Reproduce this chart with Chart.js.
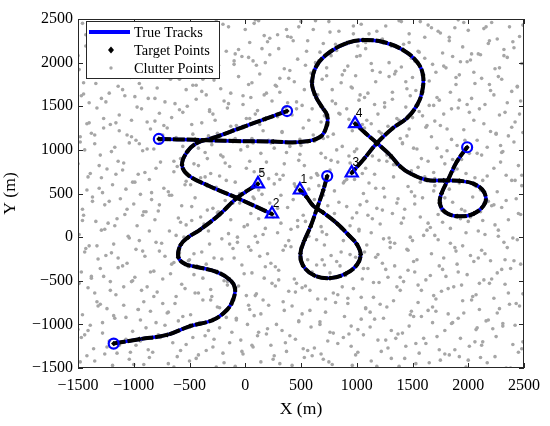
<!DOCTYPE html>
<html>
<head>
<meta charset="utf-8">
<script src="https://cdn.jsdelivr.net/npm/chart.js@4.4.1/dist/chart.umd.min.js"></script>
<style>
  html, body { margin: 0; padding: 0; background: #fff; }
</style>
</head>
<body>
<canvas id="chart" width="550" height="426"></canvas>
<script>
// Axis ticks
const xTicks = [-1500, -1000, -500, 0, 500, 1000, 1500, 2000, 2500];
const yTicks = [-1500, -1000, -500, 0, 500, 1000, 1500, 2000, 2500];

// True tracks (start = first point, end = last point), numbered by end label
const track1X = [735, 700, 645, 585, 530, 495, 520, 620, 760, 900, 1000, 1035, 1000, 930, 820, 700, 610, 550, 490];
const track1Y = [700, 540, 335, 120, -40, -190, -330, -440, -470, -420, -320, -200, -80, 20, 160, 280, 360, 460, 540];
const track2X = [375, 180, -20, -289, -433, -522, -567, -513, -343, -74, 240];
const track2Y = [1445, 1355, 1262, 1136, 1079, 976, 827, 712, 597, 449, 265];
const track3X = [-775, -450, -110, 250, 491, 671, 733, 733, 688, 626, 599, 644, 760, 913, 1056, 1236, 1415, 1541, 1594, 1586, 1541, 1451, 1325, 1182, 1070, 955];
const track3Y = [1125, 1115, 1102, 1095, 1090, 1148, 1285, 1400, 1491, 1629, 1778, 1973, 2122, 2225, 2259, 2236, 2145, 2007, 1858, 1663, 1514, 1365, 1251, 1079, 905, 735];
const track4X = [1990, 1900, 1820, 1760, 1745, 1790, 1900, 2050, 2150, 2140, 2050, 1920, 1780, 1630, 1480, 1390, 1300, 1180, 1075, 985];
const track4Y = [1030, 870, 660, 500, 390, 290, 240, 270, 390, 520, 610, 645, 650, 655, 730, 810, 940, 1080, 1195, 1300];
const track5X = [-1180, -950, -700, -495, -290, -165, -110, -92, -137, -253, -433, -540, -600, -580, -510, -400, -230, -74, 114];
const track5Y = [-1220, -1170, -1120, -1020, -950, -835, -720, -583, -491, -400, -342, -308, -230, -90, 0, 90, 260, 449, 610];
const trackLabels = ['1', '2', '3', '4', '5'];

// Clutter points
const clutterX = [
  -1420,-1190,-1040,-830,-690,-440,-260,-20,140,370,530,780,990,1130,1380,1560,1750,1920,2170,2340,
  -1480,-1260,-1030,-910,-610,-500,-200,-90,260,310,680,700,960,1220,1310,1650,1830,1980,2110,2450,
  -1360,-1220,-980,-760,-580,-360,-140,70,190,450,620,830,1060,1190,1440,1600,1880,2060,2250,2400,
  -1440,-1130,-1070,-870,-650,-470,-290,-40,230,400,560,740,930,1280,1350,1530,1720,2010,2130,2480,
  -1390,-1280,-940,-800,-520,-330,-170,20,120,480,590,890,1010,1160,1470,1680,1790,1910,2220,2310,
  -1500,-1170,-1010,-720,-560,-410,-230,-80,280,330,670,760,950,1240,1410,1510,1850,2080,2160,2420,
  -1330,-1240,-1090,-850,-630,-490,-120,40,160,420,510,810,1080,1120,1330,1640,1710,1960,2280,2370,
  -1460,-1300,-960,-910,-700,-380,-250,80,210,350,650,720,920,1270,1490,1550,1820,2030,2100,2460,
  -1410,-1160,-1020,-790,-540,-420,-300,-60,100,460,580,870,1040,1200,1360,1690,1760,1940,2230,2330,
  -1350,-1210,-930,-880,-620,-310,-160,10,240,390,540,790,970,1150,1420,1580,1870,2070,2190,2490,
  -1470,-1270,-1100,-740,-510,-460,-270,-30,170,300,630,710,1050,1260,1390,1520,1740,1990,2140,2380,
  -1380,-1140,-990,-820,-670,-350,-190,60,270,440,600,850,900,1100,1460,1620,1800,1900,2260,2300,
  -1430,-1250,-1060,-770,-590,-500,-110,-100,130,340,690,770,1070,1230,1300,1670,1780,2050,2120,2410,
  -1320,-1200,-920,-900,-640,-390,-280,30,200,490,500,820,940,1170,1450,1540,1890,2020,2200,2350,
  -1490,-1180,-1050,-860,-550,-430,-210,-70,290,360,570,880,1020,1290,1340,1630,1700,1950,2270,2440,
  -1400,-1290,-950,-750,-680,-320,-150,90,110,410,640,730,1090,1130,1480,1500,1840,2090,2150,2320,
  -1340,-1150,-1080,-810,-530,-480,-240,-10,250,320,520,860,960,1210,1320,1570,1770,1930,2240,2470,
  -1450,-1230,-970,-890,-600,-370,-130,50,180,470,680,750,1000,1140,1400,1660,1730,2000,2110,2360,
  -1370,-1120,-1000,-780,-660,-450,-290,-50,150,380,550,840,910,1250,1430,1590,1860,1970,2210,2430,
  -1460,-1260,-940,-840,-570,-340,-180,70,220,430,610,700,1030,1180,1370,1520,1760,2040,2180,2300,
  -1410,-1190,-1070,-730,-530,-400,-260,0,260,310,660,800,980,1110,1460,1610,1830,1920,2260,2390,
  -1310,-1280,-1010,-860,-690,-490,-170,-90,120,450,590,880,1060,1240,1330,1690,1700,2070,2130,2480,
  -1500,-1140,-960,-800,-610,-310,-230,40,190,340,530,760,940,1200,1490,1550,1790,1980,2230,2340,
  -1390,-1240,-1090,-900,-640,-460,-140,80,280,480,640,830,1080,1160,1350,1640,1870,1940,2170,2450,
  -1440,-1170,-920,-760,-580,-360,-300,-40,140,400,560,720,1000,1270,1410,1580,1720,2010,2290,2310,
  -1350,-1300,-1040,-820,-510,-420,-200,20,230,370,680,870,930,1150,1300,1510,1810,1900,2120,2410,
  -1480,-1210,-980,-740,-700,-330,-110,60,160,490,520,790,1050,1220,1470,1670,1750,2080,2200,2360,
  -1380,-1130,-1060,-850,-620,-480,-250,-80,210,330,620,740,960,1280,1390,1620,1850,1960,2250,2490,
  -1420,-1270,-930,-880,-560,-390,-160,10,110,420,600,850,1090,1130,1440,1500,1780,2050,2100,2330,
  -1330,-1160,-1020,-770,-660,-320,-270,90,290,360,570,710,910,1190,1360,1560,1700,1910,2280,2420,
  -1470,-1220,-990,-810,-530,-440,-190,-20,170,460,650,810,1020,1100,1480,1690,1840,2030,2150,2390,
  -1400,-1290,-1100,-720,-630,-350,-130,50,240,310,510,780,1070,1250,1320,1530,1740,1990,2230,2470,
  -1360,-1140,-950,-870,-590,-470,-280,-60,130,440,690,860,990,1210,1450,1650,1890,1920,2190,2300,
  -1450,-1190,-1030,-790,-680,-380,-220,30,270,390,590,730,950,1170,1340,1590,1710,2060,2270,2440,
  -1310,-1250,-960,-830,-540,-330,-100,-30,180,350,540,890,1030,1290,1400,1520,1800,1930,2110,2350,
  -1490,-1170,-1080,-760,-650,-430,-240,70,220,470,630,770,920,1140,1490,1680,1860,2020,2240,2480,
  -1390,-1280,-1000,-910,-570,-400,-300,-90,150,410,560,820,1080,1230,1310,1610,1770,1950,2180,2320,
  -1430,-1130,-940,-740,-610,-490,-170,40,200,300,670,700,1010,1110,1420,1550,1830,2090,2260,2400,
  -1340,-1230,-1050,-860,-520,-360,-260,0,290,480,500,840,970,1260,1380,1640,1730,1910,2140,2460,
  -1460,-1200,-970,-800,-690,-440,-150,80,120,380,610,750,1040,1180,1470,1570,1880,2000,2210,2370,
  -1350,-1150,-1000,-860,-640,-420,-190,-30,250,420,600,750,1010,1180,1430,1530,1790,2000,2240,2380,
  -1470,-1240,-940,-780,-530,-350,-280,60,110,360,520,880,950,1260,1370,1620,1740,1930,2120,2490,
  -1410,-1280,-1070,-890,-600,-490,-120,-80,200,480,670,790,1040,1120,1310,1580,1860,2070,2180,2310,
  -1320,-1180,-960,-740,-690,-310,-230,30,140,340,580,720,1080,1210,1480,1680,1710,1950,2260,2430,
  -1490,-1210,-1090,-820,-570,-450,-160,90,270,450,510,830,920,1150,1390,1550,1820,2040,2100,2360,
  -1380,-1300,-1010,-850,-660,-380,-300,-10,180,300,640,760,1060,1280,1340,1660,1770,1910,2210,2470,
  -1440,-1140,-980,-720,-510,-460,-210,50,230,410,560,860,990,1190,1460,1510,1880,2090,2150,2330,
  -1330,-1260,-1040,-800,-620,-330,-140,-70,160,390,690,710,1020,1240,1300,1600,1730,1980,2270,2400,
  -1460,-1170,-920,-910,-580,-400,-250,20,120,470,540,800,940,1100,1420,1640,1840,2020,2130,2450,
  -1370,-1220,-1060,-770,-680,-480,-110,80,290,320,620,740,1090,1230,1360,1520,1790,1940,2230,2340,
  -1420,-1290,-990,-840,-540,-360,-270,-50,210,440,570,890,910,1170,1490,1570,1700,2060,2110,2420,
  -1310,-1160,-1100,-760,-640,-420,-180,10,150,350,650,770,1050,1270,1330,1690,1860,1900,2290,2480,
  -1480,-1200,-950,-880,-560,-340,-220,70,260,490,500,820,980,1140,1410,1540,1760,2080,2170,2300,
  -1350,-1270,-1020,-730,-700,-470,-130,-90,130,330,610,700,1070,1200,1450,1630,1810,1970,2250,2390,
  -1400,-1130,-970,-810,-590,-320,-290,40,240,460,680,840,930,1250,1380,1590,1850,2010,2140,2460,
  -1450,-1250,-1080,-870,-520,-390,-150,-20,190,380,530,780,1030,1160,1320,1650,1720,1920,2200,2350,
  -1340,-1190,-930,-790,-670,-440,-240,60,280,310,590,870,960,1290,1440,1500,1890,2050,2120,2440,
  -1500,-1230,-1050,-900,-610,-500,-100,30,100,400,660,730,1000,1130,1350,1610,1780,1990,2280,2320,
  -1360,-1150,-1000,-750,-550,-370,-260,-60,220,430,550,810,1080,1220,1470,1560,1830,2030,2190,2410,
  -1430,-1280,-960,-830,-650,-410,-200,90,170,370,630,760,970,1110,1400,1670,1750,1960,2160,2490
];
const clutterY = [
  -1360,-1470,-1400,-1320,-1450,-1390,-1490,-1340,-1430,-1310,-1380,-1460,-1350,-1420,-1480,-1330,-1410,-1370,-1440,-1500,
  -1430,-1340,-1320,-1460,-1370,-1420,-1330,-1480,-1360,-1450,-1340,-1400,-1470,-1310,-1390,-1440,-1350,-1490,-1380,-1320,
  -1280,-1190,-1240,-1150,-1300,-1130,-1210,-1260,-1110,-1170,-1270,-1220,-1120,-1180,-1250,-1160,-1290,-1200,-1140,-1230,
  -1120,-1240,-1170,-1290,-1210,-1150,-1260,-1180,-1240,-1130,-1300,-1190,-1110,-1270,-1160,-1220,-1140,-1250,-1200,-1280,
  -1010,-1100,-950,-980,-1040,-1070,-920,-1000,-1090,-960,-1030,-910,-1060,-940,-1020,-980,-1070,-930,-1050,-990,
  -1060,-930,-1080,-1010,-910,-980,-1040,-950,-1000,-1070,-970,-1090,-1020,-930,-1100,-910,-990,-1040,-960,-1010,
  -740,-820,-780,-850,-760,-890,-770,-830,-720,-790,-880,-750,-810,-860,-730,-840,-710,-870,-820,-770,
  -890,-770,-830,-740,-870,-720,-800,-900,-780,-840,-710,-860,-760,-800,-850,-750,-880,-720,-830,-790,
  -580,-660,-510,-630,-590,-640,-680,-560,-650,-530,-610,-570,-690,-520,-570,-670,-620,-550,-700,-540,
  -640,-510,-610,-570,-680,-600,-550,-670,-530,-620,-560,-640,-590,-690,-510,-610,-570,-660,-530,-650,
  -400,-450,-330,-480,-340,-430,-390,-320,-470,-380,-440,-320,-480,-370,-460,-400,-330,-430,-490,-360,
  -470,-350,-460,-390,-420,-310,-500,-410,-340,-480,-400,-330,-440,-360,-380,-490,-450,-310,-410,-370,
  -130,-210,-300,-160,-180,-260,-130,-240,-220,-150,-260,-210,-170,-300,-120,-190,-240,-280,-150,-270,
  -250,-180,-160,-220,-290,-170,-240,-110,-190,-260,-120,-280,-200,-230,-140,-260,-160,-210,-270,-120,
  30,-80,10,70,0,60,-20,-60,50,-100,10,-40,70,-10,-70,80,20,-100,10,-30,
  -100,80,-40,-70,70,-80,40,10,-60,90,-30,30,-90,50,0,-40,-70,70,30,-60,
  180,210,260,200,140,190,290,120,230,160,250,100,220,150,270,230,170,210,140,260,
  250,160,130,290,220,150,200,270,100,190,120,240,280,210,160,110,260,180,290,200,
  410,440,380,300,480,450,330,390,490,340,470,400,350,460,320,450,400,300,360,440,
  320,370,490,430,360,310,420,460,390,430,350,480,370,330,440,380,310,460,410,340,
  690,600,550,560,640,680,570,510,610,660,590,530,660,620,580,690,550,620,520,650,
  560,510,630,660,520,600,650,630,540,580,680,620,500,560,690,530,670,580,650,590,
  840,870,720,790,810,730,700,870,860,710,820,770,850,880,760,800,840,730,790,710,
  730,780,850,740,870,840,810,750,720,880,730,860,790,720,830,870,760,890,700,820,
  1000,1030,990,1080,900,970,1060,1000,960,1040,1090,910,1010,940,1070,900,1020,960,1050,980,
  1070,940,1080,1010,990,1020,920,1040,1080,970,960,1040,930,1030,910,1020,990,1050,940,1090,
  1150,1290,1110,1170,1250,1160,1230,1130,1220,1120,1250,1180,1290,1190,1240,1150,1280,1110,1210,1160,
  1190,1220,1170,1240,1140,1290,1190,1280,1110,1210,1100,1150,1220,1270,1130,1260,1120,1230,1180,1200,
  1300,1360,1470,1320,1430,1310,1480,1360,1450,1400,1470,1410,1340,1300,1490,1370,1410,1340,1470,1430,
  1480,1310,1340,1420,1370,1460,1340,1410,1380,1490,1340,1390,1470,1410,1360,1440,1330,1480,1400,1320,
  1620,1650,1610,1590,1690,1580,1560,1520,1630,1550,1630,1530,1570,1650,1620,1510,1660,1590,1520,1670,
  1540,1590,1690,1550,1530,1630,1650,1600,1560,1660,1510,1690,1600,1540,1580,1680,1570,1520,1630,1560,
  1860,1730,1760,1870,1810,1740,1800,1840,1870,1780,1810,1770,1850,1890,1700,1790,1830,1860,1750,1810,
  1770,1880,1830,1710,1860,1810,1700,1750,1740,1820,1880,1850,1720,1780,1870,1740,1890,1760,1840,1730,
  2030,1950,1930,2040,1980,2090,2020,2070,2000,1930,1970,1910,2080,2000,1950,2020,1940,2010,2090,2060,
  1920,2010,2060,1960,1900,2050,1970,2020,2090,2040,2000,2080,1960,1910,2050,1980,2070,2030,1930,1990,
  2280,2170,2190,2200,2240,2120,2260,2100,2160,2290,2250,2140,2230,2270,2190,2290,2110,2180,2220,2150,
  2190,2260,2100,2280,2150,2270,2130,2230,2240,2160,2120,2220,2190,2250,2210,2130,2250,2100,2270,2240,
  2310,2340,2440,2330,2420,2400,2490,2380,2320,2410,2470,2360,2330,2420,2480,2430,2360,2490,2390,2300,
  2450,2420,2370,2430,2320,2360,2410,2450,2480,2300,2380,2470,2440,2360,2330,2470,2400,2370,2460,2410,
  -1420,-1330,-1460,-1380,-1490,-1350,-1440,-1310,-1400,-1470,-1360,-1430,-1320,-1480,-1390,-1450,-1340,-1410,-1370,-1500,
  -1150,-1260,-1190,-1120,-1230,-1300,-1170,-1240,-1130,-1210,-1280,-1150,-1250,-1180,-1110,-1220,-1290,-1160,-1240,-1200,
  -1070,-980,-920,-1040,-960,-1010,-1090,-930,-1050,-970,-1000,-1100,-940,-1030,-1070,-910,-980,-1060,-950,-1020,
  -790,-900,-830,-760,-860,-720,-810,-780,-880,-740,-840,-710,-820,-770,-890,-800,-850,-730,-870,-760,
  -530,-610,-570,-680,-540,-640,-510,-670,-560,-630,-580,-660,-700,-520,-610,-550,-590,-680,-530,-640,
  -450,-360,-500,-400,-310,-470,-380,-420,-340,-490,-320,-410,-360,-460,-330,-440,-370,-400,-480,-310,
  -170,-240,-140,-220,-270,-190,-250,-150,-300,-110,-260,-170,-230,-200,-150,-280,-120,-240,-190,-260,
  -100,90,-10,-60,20,70,-80,0,30,-40,60,-90,90,-20,-60,20,-30,50,80,-10,
  190,130,250,290,170,230,280,140,210,120,180,270,130,250,220,160,100,230,190,270,
  460,410,320,370,480,350,390,440,330,480,430,360,410,310,390,470,450,320,370,420,
  540,680,630,510,600,690,560,500,670,610,550,640,660,560,520,630,590,680,540,650,
  820,720,770,860,750,820,850,790,760,840,710,880,730,870,830,740,890,780,860,710,
  1090,980,1070,1010,1040,900,940,1080,1020,950,1050,1000,980,930,1080,1010,920,960,1030,970,
  1170,1250,1150,1280,1120,1180,1270,1130,1290,1200,1170,1130,1250,1210,1160,1280,1240,1110,1190,1260,
  1310,1400,1490,1330,1460,1440,1410,1360,1380,1470,1320,1420,1350,1490,1340,1390,1470,1430,1300,1410,
  1640,1550,1620,1590,1500,1670,1530,1620,1650,1540,1690,1560,1630,1520,1660,1510,1600,1570,1680,1540,
  1760,1860,1710,1850,1810,1740,1890,1770,1730,1820,1790,1860,1710,1840,1780,1830,1750,1890,1820,1720,
  2080,1920,2040,1950,2030,2000,1980,2060,1970,1910,2020,1940,2070,1990,1900,2050,1960,2010,1940,2080,
  2200,2230,2180,2270,2140,2290,2110,2150,2280,2250,2130,2210,2160,2260,2230,2120,2290,2100,2250,2170,
  2320,2370,2460,2300,2390,2360,2440,2490,2310,2380,2480,2350,2420,2330,2470,2400,2340,2460,2410,2430
];

const legendLabels = ['True Tracks', 'Target Points', 'Clutter Points'];

// Styles
const SERIF = '"Liberation Serif", "Times New Roman", serif';
const SANS = '"Liberation Sans", Arial, sans-serif';
const BLUE = '#0000ff';
const GRAY = '#a6a6a6';
const AXIS = '#262626';

const tracksX = [track1X, track2X, track3X, track4X, track5X];
const tracksY = [track1Y, track2Y, track3Y, track4Y, track5Y];

function toPoints(xs, ys) {
  return xs.map((x, i) => ({ x: x, y: ys[i] }));
}
function fmt(v) {
  return v < 0 ? '\u2212' + Math.abs(v) : String(v);
}

const datasets = [];

// start circles and end triangles on top
datasets.push({
  label: 'Start',
  data: tracksX.map((xs, i) => ({ x: xs[0], y: tracksY[i][0] })),
  pointStyle: 'circle', radius: 5, borderWidth: 2.2,
  borderColor: BLUE, backgroundColor: 'rgba(0,0,0,0)', order: 0
});
datasets.push({
  label: 'End',
  data: tracksX.map((xs, i) => ({ x: xs[xs.length - 1], y: tracksY[i][tracksY[i].length - 1] })),
  pointStyle: 'triangle', radius: 7, borderWidth: 2.2,
  borderColor: BLUE, backgroundColor: 'rgba(0,0,0,0)', order: 0
});

tracksX.forEach((xs, i) => {
  datasets.push({
    label: legendLabels[1],
    data: toPoints(xs, tracksY[i]),
    showLine: true, tension: 0.4,
    borderColor: '#000', borderWidth: 4, borderDash: [12, 2],
    pointStyle: 'rectRot', radius: 2.6,
    pointBorderWidth: 0, backgroundColor: '#000', order: 2
  });
  datasets.push({
    label: legendLabels[0],
    data: toPoints(xs, tracksY[i]),
    showLine: true, tension: 0.4,
    borderColor: BLUE, borderWidth: 3.5, radius: 0, order: 3
  });
});

datasets.push({
  label: legendLabels[2],
  data: toPoints(clutterX, clutterY),
  pointStyle: 'circle', radius: 1.8, borderWidth: 0,
  backgroundColor: GRAY, order: 5
});

// frame, inward ticks, end labels, legend
const decorations = {
  id: 'decorations',
  afterDraw(chart) {
    const { ctx, chartArea: a, scales } = chart;
    const xs = scales.x, ys = scales.y;
    ctx.save();

    // end labels
    ctx.font = '12px ' + SANS;
    ctx.fillStyle = '#000';
    ctx.textAlign = 'center';
    ctx.textBaseline = 'middle';
    tracksX.forEach((t, i) => {
      const px = xs.getPixelForValue(t[t.length - 1]);
      const py = ys.getPixelForValue(tracksY[i][tracksY[i].length - 1]);
      ctx.fillText(trackLabels[i], px + 4, py - 10);
    });

    // box
    ctx.strokeStyle = AXIS;
    ctx.lineWidth = 1;
    ctx.strokeRect(a.left + 0.5, a.top + 0.5, a.right - a.left - 1, a.bottom - a.top - 1);
    ctx.beginPath();
    xTicks.forEach(v => {
      const p = Math.round(xs.getPixelForValue(v)) + 0.5;
      ctx.moveTo(p, a.bottom); ctx.lineTo(p, a.bottom - 5);
      ctx.moveTo(p, a.top); ctx.lineTo(p, a.top + 5);
    });
    yTicks.forEach(v => {
      const p = Math.round(ys.getPixelForValue(v)) + 0.5;
      ctx.moveTo(a.left, p); ctx.lineTo(a.left + 5, p);
      ctx.moveTo(a.right, p); ctx.lineTo(a.right - 5, p);
    });
    ctx.stroke();

    // legend
    const lx = a.left + 8, ly = a.top + 2, lw = 133, lh = 57;
    ctx.fillStyle = '#fff';
    ctx.fillRect(lx, ly, lw, lh);
    ctx.strokeStyle = AXIS;
    ctx.strokeRect(lx + 0.5, ly + 0.5, lw, lh);
    const rows = [ly + 11, ly + 29, ly + 47];
    ctx.strokeStyle = BLUE;
    ctx.lineWidth = 4;
    ctx.beginPath();
    ctx.moveTo(lx + 3, rows[0]); ctx.lineTo(lx + 44, rows[0]);
    ctx.stroke();
    ctx.fillStyle = '#000';
    ctx.beginPath();
    const dx = lx + 25, dy = rows[1];
    ctx.moveTo(dx, dy - 3.5); ctx.lineTo(dx + 3, dy); ctx.lineTo(dx, dy + 3.5); ctx.lineTo(dx - 3, dy);
    ctx.closePath(); ctx.fill();
    ctx.fillStyle = GRAY;
    ctx.beginPath();
    ctx.arc(lx + 25, rows[2], 1.7, 0, Math.PI * 2);
    ctx.fill();
    ctx.fillStyle = '#000';
    ctx.font = '14.4px ' + SERIF;
    ctx.textAlign = 'left';
    ctx.textBaseline = 'middle';
    legendLabels.forEach((t, i) => ctx.fillText(t, lx + 48, rows[i] + 1));
    ctx.restore();
  }
};

new Chart(document.getElementById('chart'), {
  type: 'scatter',
  data: { datasets: datasets },
  options: {
    responsive: false,
    animation: false,
    events: [],
    layout: { padding: { top: 19, right: 26, bottom: 0, left: 0 } },
    plugins: { legend: { display: false }, tooltip: { enabled: false } },
    scales: {
      x: {
        type: 'linear', min: -1500, max: 2500,
        afterBuildTicks: s => { s.ticks = xTicks.map(v => ({ value: v })); },
        afterFit: s => { s.height = 58; },
        grid: { display: false, drawTicks: false },
        border: { display: false },
        ticks: { font: { family: SERIF, size: 16 }, color: '#000', padding: 8, maxRotation: 0, autoSkip: false, callback: fmt },
        title: { display: true, text: 'X (m)', color: '#000', font: { family: SERIF, size: 17.6 }, padding: { top: 0, bottom: 6 } }
      },
      y: {
        type: 'linear', min: -1500, max: 2500,
        afterBuildTicks: s => { s.ticks = yTicks.map(v => ({ value: v })); },
        afterFit: s => { s.width = 78; },
        grid: { display: false, drawTicks: false },
        border: { display: false },
        ticks: { font: { family: SERIF, size: 16 }, color: '#000', padding: 5, autoSkip: false, callback: fmt },
        title: { display: true, text: 'Y (m)', color: '#000', font: { family: SERIF, size: 17.6 }, padding: { top: 0, bottom: 0 } }
      }
    }
  },
  plugins: [decorations]
});
</script>
</body>
</html>
